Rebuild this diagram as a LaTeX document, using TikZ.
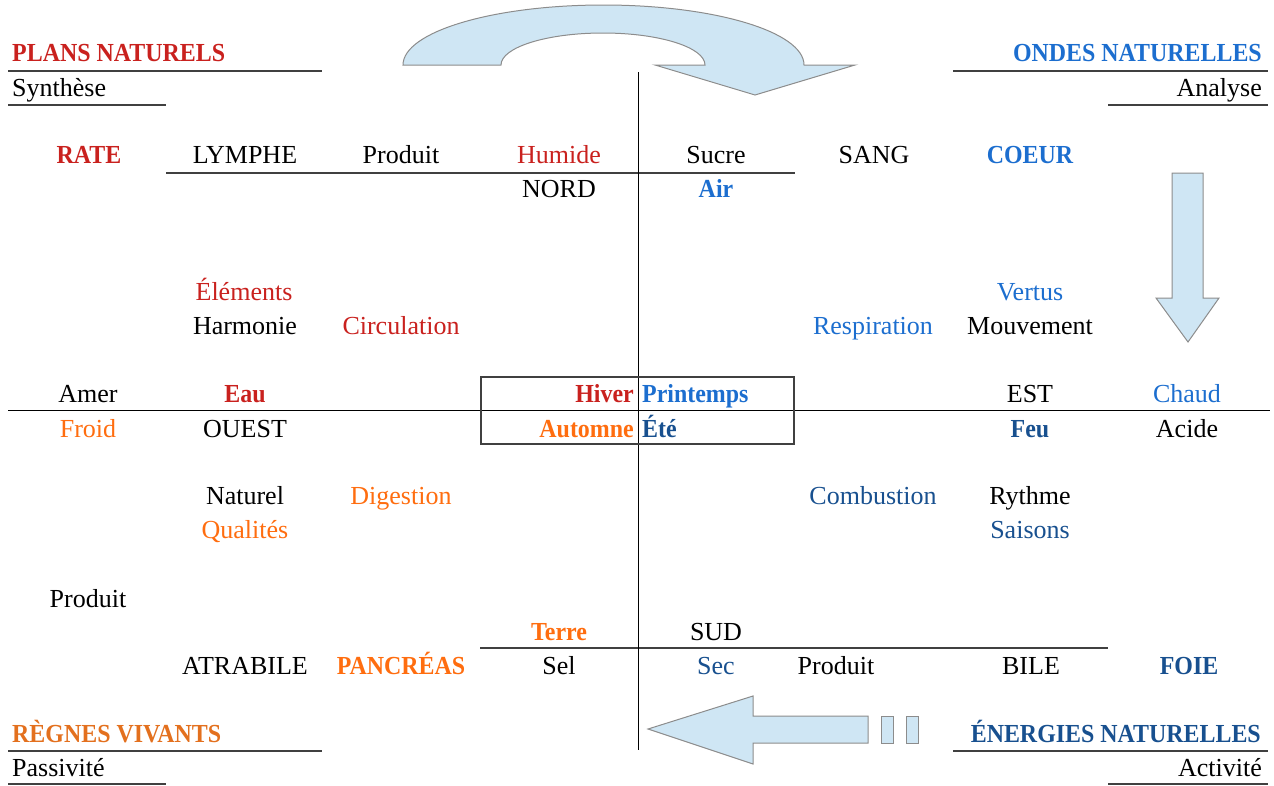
\documentclass[tikz,border=0pt]{standalone}
\usepackage{fontspec}
\setmainfont{Liberation Serif}[BoldFeatures={FakeStretch=0.92}]
\definecolor{planred}{HTML}{C9211E}
\definecolor{ondeblue}{HTML}{1C6ECF}
\definecolor{energieblue}{HTML}{18508F}
\definecolor{regneorange}{HTML}{FF6D0F}
\definecolor{titreorange}{HTML}{E3701E}
\definecolor{arrowfill}{HTML}{CFE6F4}
\definecolor{arrowline}{HTML}{8C8C8C}
\definecolor{rule}{HTML}{404040}

\begin{document}
\begin{tikzpicture}
        [x=1pt, y=-1pt, every node/.style={anchor=base, inner sep=0, font=\fontsize{26}{30}\selectfont},
        gras/.style={font=\fontsize{26}{30}\selectfont\bfseries},
        plan/.style={text=planred}, onde/.style={text=ondeblue},
        energie/.style={text=energieblue}, regne/.style={text=regneorange},
        fleche/.style={fill=arrowfill, draw=arrowline, line width=1pt, line join=miter},
        trait/.style={draw=rule, line width=1.1pt}]

        \useasboundingbox (0,0) rectangle (1274,785);

        % fleches
        \draw[fleche] (403,65) arc[start angle=180, end angle=0, x radius=200.5pt, y radius=60pt]
          -- (855,65) -- (755,95) -- (655,65) -- (705,65)
          arc[start angle=0, end angle=180, x radius=102pt, y radius=32pt] -- cycle;
        \draw[fleche] (1172,173) -- (1203,173) -- (1203,298) -- (1219,298) -- (1188,342)
          -- (1156,298) -- (1172,298) -- cycle;
        \draw[fleche] (648,729) -- (753,696) -- (753,716) -- (868,716) -- (868,743)
          -- (753,743) -- (753,764) -- cycle;
        \draw[fleche] (881,716) rectangle (893,743);
        \draw[fleche] (906,716) rectangle (918,743);

        % traits
        \draw[trait] (8,71) -- (322,71);
        \draw[trait] (8,105) -- (166,105);
        \draw[trait] (953,71) -- (1268,71);
        \draw[trait] (1108,105) -- (1268,105);
        \draw[trait] (166,173) -- (795,173);
        \draw[trait] (480,648) -- (1108,648);
        \draw[trait] (8,751) -- (322,751);
        \draw[trait] (8,784) -- (166,784);
        \draw[trait] (953,751) -- (1268,751);
        \draw[trait] (1108,784) -- (1268,784);
        \draw[black, line width=1pt] (8,410) -- (1270,410);
        \draw[black, line width=1pt] (638,72) -- (638,750);
        \draw[trait] (481,377) rectangle (794,444);

        % titres
        \node[gras, plan, anchor=base west] (plans) at (12,61) {PLANS NATURELS};
        \node[anchor=base west] (synthese) at (12,96) {Synthèse};
        \node[gras, onde, anchor=base east] (ondes) at (1262,61) {ONDES NATURELLES};
        \node[anchor=base east] (analyse) at (1262,96) {Analyse};
        \node[gras, text=titreorange, anchor=base west] (regnes) at (12,742) {RÈGNES VIVANTS};
        \node[anchor=base west] (passivite) at (12,776) {Passivité};
        \node[gras, energie, anchor=base east] (energies) at (1261,742) {ÉNERGIES NATURELLES};
        \node[anchor=base east] (activite) at (1262,776) {Activité};

        % haut
        \node[gras, plan] (rate) at (89,163) {RATE};
        \node (lymphe) at (245,163) {LYMPHE};
        \node (produitN) at (401,163) {Produit};
        \node[plan] (humide) at (559,163) {Humide};
        \node (sucre) at (716,163) {Sucre};
        \node (sang) at (874,163) {SANG};
        \node[gras, onde] (coeur) at (1030,163) {COEUR};
        \node (nord) at (559,197) {NORD};
        \node[gras, onde] (air) at (716,197) {Air};

        \node[plan] (elements) at (244,300) {Éléments};
        \node[onde] (vertus) at (1030,300) {Vertus};
        \node (harmonie) at (245,334) {Harmonie};
        \node[plan] (circulation) at (401,334) {Circulation};
        \node[onde] (respiration) at (873,334) {Respiration};
        \node (mouvement) at (1030,334) {Mouvement};

        % milieu
        \node (amer) at (88,402) {Amer};
        \node[gras, plan] (eau) at (245,402) {Eau};
        \node[gras, plan, anchor=base east] (hiver) at (634,402) {Hiver};
        \node[gras, onde, anchor=base west] (printemps) at (642,402) {Printemps};
        \node (est) at (1030,402) {EST};
        \node[onde] (chaud) at (1187,402) {Chaud};
        \node[regne] (froid) at (88,437) {Froid};
        \node (ouest) at (245,437) {OUEST};
        \node[gras, regne, anchor=base east] (automne) at (634,437) {Automne};
        \node[gras, energie, anchor=base west] (ete) at (642,437) {Été};
        \node[gras, energie] (feu) at (1030,437) {Feu};
        \node (acide) at (1187,437) {Acide};

        \node (naturel) at (245,504) {Naturel};
        \node[regne] (digestion) at (401,504) {Digestion};
        \node[energie] (combustion) at (873,504) {Combustion};
        \node (rythme) at (1030,504) {Rythme};
        \node[regne] (qualites) at (245,538) {Qualités};
        \node[energie] (saisons) at (1030,538) {Saisons};

        % bas
        \node (produitO) at (88,607) {Produit};
        \node[gras, regne] (terre) at (559,640) {Terre};
        \node (sud) at (716,640) {SUD};
        \node (atrabile) at (245,674) {ATRABILE};
        \node[gras, regne] (pancreas) at (401,674) {PANCRÉAS};
        \node (sel) at (559,674) {Sel};
        \node[energie] (sec) at (716,674) {Sec};
        \node (produitS) at (836,674) {Produit};
        \node (bile) at (1031,674) {BILE};
        \node[gras, energie] (foie) at (1189,674) {FOIE};

      \end{tikzpicture}
\end{document}
